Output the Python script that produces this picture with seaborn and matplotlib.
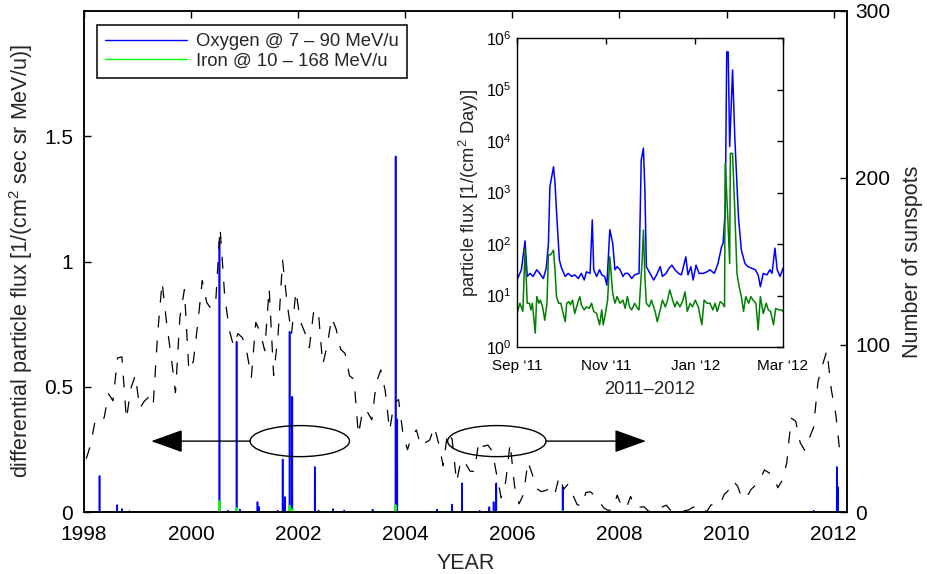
import numpy as np
import pandas as pd
import matplotlib
matplotlib.use("Agg")
import matplotlib.pyplot as plt
import seaborn as sns
from matplotlib.patches import Ellipse
from matplotlib.lines import Line2D
import matplotlib.ticker as mticker

# ---------------- data ----------------
# monthly mean sunspot number (right axis), Jan 1998 .. Feb 2012
ssn_1998 = [31.9, 40.3, 54.8, 53.4, 56.3, 70.7, 66.6, 92.2, 92.9, 55.5, 74.0, 81.9]
ssn_1999 = [62.0, 66.3, 68.8, 63.7, 106.4, 137.7, 113.5, 93.7, 71.5, 116.7, 133.2, 84.6]
ssn_2000 = [90.1, 112.9, 138.5, 125.5, 121.6, 124.9, 170.1, 130.5, 109.7, 99.4, 106.8, 104.4]
ssn_2001 = [95.6, 80.6, 113.5, 107.7, 96.6, 134.0, 81.8, 106.4, 150.7, 125.5, 106.5, 132.2]
ssn_2002 = [114.1, 107.4, 98.4, 120.7, 120.8, 88.3, 99.6, 116.4, 109.6, 97.5, 95.0, 81.6]
ssn_2003 = [79.5, 46.2, 61.5, 60.0, 55.2, 77.4, 85.0, 72.7, 48.8, 65.5, 67.3, 46.5]
ssn_2004 = [37.3, 45.8, 49.1, 39.3, 41.5, 43.2, 51.1, 40.9, 27.7, 48.0, 43.5, 17.9]
ssn_2005 = [31.3, 29.2, 24.5, 24.2, 42.7, 39.3, 40.1, 36.4, 22.1, 8.5, 18.0, 41.2]
ssn_2006 = [15.3, 4.9, 10.6, 30.2, 22.3, 13.9, 12.2, 12.9, 14.4, 10.5, 21.4, 13.6]
ssn_2007 = [16.8, 10.7, 4.5, 3.4, 11.7, 12.1, 9.7, 6.0, 2.4, 0.9, 1.7, 10.1]
ssn_2008 = [3.3, 2.1, 9.3, 2.9, 2.9, 3.1, 0.5, 0.5, 1.1, 2.9, 4.1, 0.8]
ssn_2009 = [1.5, 1.4, 0.7, 1.2, 2.9, 2.6, 3.5, 0.0, 4.2, 4.6, 4.2, 10.6]
ssn_2010 = [13.1, 18.6, 15.4, 7.9, 8.8, 13.5, 16.1, 19.6, 25.2, 23.5, 21.6, 14.5]
ssn_2011 = [19.0, 29.4, 56.2, 54.4, 41.6, 37.0, 43.9, 50.6, 78.0, 88.0, 96.7, 73.0]
ssn_2012 = [58.3, 33.1]

# SEP events in main panel: time (year), oxygen & iron peak flux
event_years = [1998.29, 1998.62, 1998.71, 1998.85, 2000.53, 2000.69, 2000.85, 2000.91,
               2001.24, 2001.27, 2001.62, 2001.71, 2001.75, 2001.84, 2001.89, 2002.31,
               2002.38, 2002.65, 2002.86, 2003.39, 2003.82, 2003.85, 2004.59, 2004.87,
               2005.06, 2005.39, 2005.57, 2005.65, 2005.70, 2006.94, 2011.63, 2012.06, 2012.08]
oxygen_peaks = [0.144, 0.028, 0.012, 0.004, 1.08, 0.005, 0.68, 0.010,
                0.040, 0.020, 0.005, 0.21, 0.06, 0.72, 0.46, 0.18,
                0.006, 0.012, 0.006, 0.010, 1.42, 0.37, 0.010, 0.030,
                0.115, 0.005, 0.020, 0.040, 0.115, 0.10, 0.005, 0.18, 0.10]
iron_peaks = [0.0, 0.0, 0.0, 0.0, 0.044, 0.0, 0.016, 0.0,
              0.0, 0.0, 0.0, 0.0, 0.0, 0.025, 0.012, 0.0,
              0.0, 0.0, 0.0, 0.0, 0.028, 0.0, 0.0, 0.0,
              0.0, 0.0, 0.0, 0.0, 0.0, 0.005, 0.0, 0.0, 0.0]

# inset: days since 1 Sep 2011 and log10 of particle flux
ox_day = [0, 3, 5.5, 7, 9, 11, 13.5, 15.5, 18, 20, 21.5, 22.5, 25, 26, 27.5, 29, 30.5, 33, 35, 37.5,
          39.5, 42, 44, 46, 47.5, 50, 51.5, 52.5, 54.5, 56.5, 58, 60, 61.5, 63.5, 65.5, 67, 68.5, 70.5,
          72.5, 74, 76, 78.5, 80.5, 83.5, 85, 86.5, 87.5, 88.5, 91, 93.5, 95.5, 98, 99.5, 102, 104, 106,
          108, 110.5, 112.5, 115.5, 117, 119, 120.5, 122.5, 124.5, 127.5, 130, 132, 135, 137.5, 140, 141,
          142.5, 143.5, 144.5, 145.5, 147.5, 149, 151.5, 153.5, 156, 158, 160.5, 163, 165, 166.5, 168.5,
          171, 173, 174.5, 176.5, 178, 180, 182]
ox_log10 = [1.30, 1.50, 2.06, 1.37, 1.43, 1.37, 1.50, 1.43, 1.33, 1.53,
            2.01, 3.11, 3.50, 3.18, 2.40, 1.69, 1.53, 1.37, 1.43, 1.37,
            1.40, 1.33, 1.43, 1.30, 1.46, 1.43, 2.47, 1.50, 1.37, 1.50,
            1.40, 1.37, 1.20, 2.28, 2.01, 1.50, 1.56, 1.50, 1.37, 1.43,
            1.43, 1.33, 1.40, 1.43, 3.63, 3.86, 3.05, 1.56, 1.43, 1.30,
            1.40, 1.56, 1.37, 1.43, 1.53, 1.59, 1.50, 1.43, 1.40, 1.75,
            1.40, 1.56, 1.30, 1.59, 1.43, 1.43, 1.46, 1.50, 1.43, 1.62,
            1.95, 2.01, 2.66, 5.73, 5.73, 3.89, 5.38, 4.08, 2.53, 1.88,
            1.62, 1.56, 1.53, 1.50, 1.40, 1.17, 1.43, 1.40, 1.50, 1.43,
            1.92, 1.50, 1.37, 1.53]
fe_day = [0, 2, 4, 5.5, 7, 8.5, 9.5, 10.5, 12.5, 13.5, 15, 16, 17.5, 19, 20.5, 21.5, 23, 25, 26, 27,
          28.5, 30, 31, 33, 34, 35.5, 36.5, 38, 39.5, 41.5, 43, 44, 46, 47.5, 49.5, 51, 52.5, 54.5, 56.5, 58,
          59, 60.5, 62, 63.5, 65.5, 67, 68.5, 70.5, 72.5, 74, 75.5, 77, 78.5, 80.5, 82.5, 83.5, 85.5, 86.5,
          87.5, 88.5, 90.5, 92, 94.5, 96, 98, 99.5, 101.5, 103, 104.5, 106.5, 108, 109.5, 111.5, 113.5, 115,
          116.5, 118.5, 120, 122, 124, 126.5, 128, 130, 132, 134, 135.5, 137, 139, 140.5, 142, 142.5, 144,
          145.5, 146, 147.5, 149, 150.5, 152, 153.5, 155, 156.5, 158.5, 160, 161.5, 163.5, 165, 166.5,
          168.5, 170.5, 172, 173.5, 175.5, 177, 179, 181, 182]
fe_log10 = [0.65, 0.85, 0.69, 1.90, 0.85, 0.85, 0.72, 0.85, 0.27, 0.98,
            0.85, 0.91, 0.78, 0.52, 0.85, 1.79, 1.79, 1.88, 1.50, 0.98,
            0.85, 0.85, 0.72, 0.49, 0.85, 0.88, 0.82, 0.91, 0.65, 0.85,
            0.98, 0.82, 0.72, 0.78, 0.75, 0.85, 0.69, 0.65, 0.43, 0.72,
            0.43, 0.65, 0.91, 1.75, 1.04, 0.85, 0.98, 0.85, 0.91, 0.75,
            0.98, 0.78, 0.72, 0.85, 0.75, 0.72, 1.62, 2.27, 1.37, 0.85,
            0.78, 0.91, 0.69, 0.49, 0.72, 0.91, 0.78, 0.91, 1.11, 0.91,
            0.78, 0.88, 0.78, 0.91, 1.07, 0.69, 0.85, 0.78, 0.91, 0.78,
            0.43, 0.91, 0.85, 0.85, 0.72, 0.85, 0.69, 0.88, 0.85, 0.78,
            3.57, 2.66, 1.62, 3.76, 3.76, 2.66, 1.43, 1.17, 0.98, 0.69,
            0.98, 0.85, 0.98, 0.91, 0.85, 0.33, 0.98, 0.65, 0.85, 0.72,
            0.69, 0.43, 0.75, 0.72, 0.72, 0.69]

year_ticks = [1998, 2000, 2002, 2004, 2006, 2008, 2010, 2012]
flux_ticks = [0, 0.5, 1, 1.5]
flux_ticklabels = ["0", "0.5", "1", "1.5"]
ssn_ticks = [0, 100, 200, 300]
inset_xticks = [0, 61, 122, 182]
inset_xticklabels = ["Sep \u201811", "Nov \u201811", "Jan \u201812", "Mar \u201812"]
inset_yexp = [0, 1, 2, 3, 4, 5, 6]

# ---------------- style ----------------
sns.set_style("white")
plt.rcParams["font.family"] = ["Liberation Sans", "DejaVu Sans"]
plt.rcParams["mathtext.fontset"] = "custom"
plt.rcParams["mathtext.rm"] = "Liberation Sans"
plt.rcParams["mathtext.it"] = "Liberation Sans:italic"
plt.rcParams["mathtext.bf"] = "Liberation Sans:bold"
plt.rcParams["axes.linewidth"] = 1.1

fig = plt.figure(figsize=(9.28, 5.74), dpi=100)
W, H = 928, 574
ax = fig.add_axes([84 / W, 1 - 512 / H, (847 - 84) / W, (512 - 11) / H])

# --- spikes (oxygen, iron) ---
def spike_frame(times, peaks, t0=1998.0, t1=2012.25, half=0.002):
    xs, ys = [t0], [0.0]
    for t, h in sorted(zip(times, peaks)):
        xs += [t - half, t, t + half]
        ys += [0.0, h, 0.0]
    xs.append(t1)
    ys.append(0.0)
    return pd.DataFrame({"year": xs, "flux": ys})

ox_df = spike_frame(event_years, oxygen_peaks)
fe_df = spike_frame(event_years, iron_peaks)
sns.lineplot(data=ox_df, x="year", y="flux", ax=ax, color=(0, 0, 1), lw=1.15,
             estimator=None, sort=False)
sns.lineplot(data=fe_df, x="year", y="flux", ax=ax, color=(0, 1, 0), lw=1.3,
             estimator=None, sort=False)

ax.set_xlim(1998, 2012.25)
ax.set_ylim(0, 2.0)
ax.set_xticks(year_ticks)
ax.set_xticklabels([str(y) for y in year_ticks])
ax.set_yticks(flux_ticks)
ax.set_yticklabels(flux_ticklabels)
ax.tick_params(axis="both", direction="in", length=5, width=1.0, labelsize=15,
               top=True, right=True, colors="k")
ax.tick_params(axis="x", pad=9.5)
ax.tick_params(axis="y", pad=8)
ax.set_xlabel("YEAR", fontsize=15.5, labelpad=6)
ax.set_ylabel("differential particle flux [1/(cm$^2$ sec sr MeV/u)]", fontsize=15.5, labelpad=6)
for s in ax.spines.values():
    s.set_color("k")

# --- ellipses and arrows ---
ax.add_patch(Ellipse((2002.03, 0.283), 1.856, 0.124, fill=False, ec="k", lw=1.0, zorder=6))
ax.add_patch(Ellipse((2005.71, 0.283), 1.838, 0.124, fill=False, ec="k", lw=1.0, zorder=6))
arrow_kw = dict(arrowstyle="-|>,head_length=1.0,head_width=0.36", color="k", lw=1.0,
                shrinkA=0, shrinkB=0, mutation_scale=20)
ax.annotate("", xy=(1999.256, 0.283), xytext=(2001.107, 0.283), arrowprops=arrow_kw, zorder=6)
ax.annotate("", xy=(2008.495, 0.283), xytext=(2006.626, 0.283), arrowprops=arrow_kw, zorder=6)

# --- sunspots on right axis ---
ax2 = ax.twinx()
ssn_all = (ssn_1998 + ssn_1999 + ssn_2000 + ssn_2001 + ssn_2002 + ssn_2003 + ssn_2004 +
           ssn_2005 + ssn_2006 + ssn_2007 + ssn_2008 + ssn_2009 + ssn_2010 + ssn_2011 + ssn_2012)
ssn_time = [1998 + (i + 0.5) / 12 for i in range(len(ssn_all))]
ssn_df = pd.DataFrame({"year": ssn_time, "ssn": ssn_all})
sns.lineplot(data=ssn_df, x="year", y="ssn", ax=ax2, color="k", lw=0.9, estimator=None)
ax2.lines[-1].set_linestyle((0, (9.5, 10.5)))
ax2.set_ylim(0, 300)
ax2.set_xlim(1998, 2012.25)
ax2.set_yticks(ssn_ticks)
ax2.set_yticklabels([str(v) for v in ssn_ticks])
ax2.tick_params(axis="y", direction="in", length=5, width=1.0, labelsize=15, pad=6, colors="k")
ax2.set_ylabel("Number of sunspots", fontsize=15.5, labelpad=8)
ax2.set_xlabel("")
for s in ax2.spines.values():
    s.set_color("k")

# --- legend ---
handles = [Line2D([], [], color=(0, 0, 1), lw=1.0), Line2D([], [], color=(0, 1, 0), lw=1.0)]
leg = ax2.legend(handles, ["Oxygen @ 7 \u2013 90 MeV/u", "Iron @ 10 \u2013 168 MeV/u"],
                 loc="upper left", bbox_to_anchor=(0.017, 0.972), borderaxespad=0,
                 fontsize=13.3, frameon=True, fancybox=False, edgecolor="k",
                 handlelength=4.4, handletextpad=0.5, labelspacing=0.12, borderpad=0.45)
leg.get_frame().set_linewidth(1.1)
leg.get_frame().set_alpha(1)

# --- inset ---
axin = fig.add_axes([517 / W, 1 - 347 / H, 266 / W, 309 / H])
axin.set_zorder(10)
axin.set_facecolor("white")
ox_in = pd.DataFrame({"day": ox_day, "flux": [10 ** v for v in ox_log10]})
fe_in = pd.DataFrame({"day": fe_day, "flux": [10 ** v for v in fe_log10]})
sns.lineplot(data=ox_in, x="day", y="flux", ax=axin, color=(0, 0, 1), lw=1.1, estimator=None)
sns.lineplot(data=fe_in, x="day", y="flux", ax=axin, color=(0, 0.5, 0), lw=1.1, estimator=None)
axin.set_yscale("log")
axin.set_ylim(1, 1e6)
axin.set_xlim(0, 182)
axin.set_yticks([10.0 ** e for e in inset_yexp])
axin.set_yticklabels(["$10^{%d}$" % e for e in inset_yexp])
axin.yaxis.set_minor_locator(mticker.NullLocator())
axin.set_xticks(inset_xticks)
axin.set_xticklabels(inset_xticklabels)
axin.tick_params(axis="both", direction="in", length=4, width=1.0, labelsize=11,
                 top=True, right=True, colors="k")
axin.tick_params(axis="x", pad=8.5)
axin.tick_params(axis="y", pad=4, labelsize=11.5)
axin.set_xlabel("2011\u20132012", fontsize=13.3, labelpad=6)
axin.set_ylabel("particle flux [1/(cm$^2$ Day)]", fontsize=13.3, labelpad=3)
for s in axin.spines.values():
    s.set_color("k")
    s.set_linewidth(1.0)

fig.savefig("out.png", dpi=100)
